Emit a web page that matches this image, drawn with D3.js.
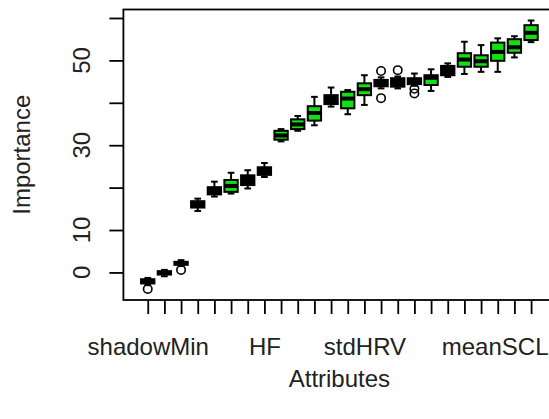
<!DOCTYPE html>
<html>
<head>
<meta charset="utf-8">
<script src="https://cdn.jsdelivr.net/npm/d3@7"></script>
<style>
  html, body { margin: 0; padding: 0; background: #fff; }
  svg { display: block; font-family: "Liberation Sans", Arial, sans-serif; }
</style>
</head>
<body>
<svg id="chart" width="549" height="419"></svg>
<script>
// ---- data ----
const tickLabels = ["shadowMin","","","","","","","HF","","","","","","stdHRV","","","","","","","","meanSCL","",""];
const whiskerLow  = [-3.0,-0.9, 1.5,14.5,17.9,18.6,19.8,22.5,30.9,33.4,34.7,39.1,37.3,39.5,43.4,43.4,44.0,42.8,46.1,46.8,47.3,47.3,50.7,54.3];
const q1          = [-2.6,-0.5, 1.8,15.3,18.4,19.0,20.6,23.0,31.3,33.8,35.8,39.7,38.7,41.8,43.9,43.8,44.4,44.2,46.5,48.5,48.5,49.9,51.8,54.8];
const medians     = [-2.1,-0.1, 2.2,16.0,19.3,20.4,21.8,23.9,32.3,34.9,37.6,40.7,41.0,43.2,44.6,44.8,45.1,45.9,47.6,50.2,49.8,52.0,53.1,56.5];
const q3          = [-1.6, 0.3, 2.5,16.8,20.1,21.8,22.9,24.8,33.4,36.1,39.2,41.8,42.6,44.6,45.4,45.8,45.8,46.5,48.7,51.7,51.2,54.2,55.0,58.3];
const whiskerHigh = [-1.3, 0.6, 2.9,17.4,21.4,23.5,24.1,25.8,33.8,36.9,41.4,43.6,43.0,46.5,46.0,46.2,46.9,47.9,49.3,54.4,53.6,55.2,55.7,59.4];
const outliers    = [[-3.9],[],[0.6],[],[],[],[],[],[],[],[],[],[],[],[47.5,41.1],[47.7],[43.3,42.2],[],[],[],[],[],[],[]];
const decisions   = ["k","k","k","k","k","g","k","k","g","g","g","k","g","g","k","k","k","g","k","g","g","g","g","g"];
const yTickValues = [0,10,20,30,40,50,60];
const yTickLabels = ["0","10","","30","","50",""];
const yTitle = "Importance";
const xTitle = "Attributes";

(function () {
// ---- layout ----
const n = tickLabels.length;
const W = 549;
const svg = d3.select("#chart");
const pLeft = 123.4, pTop = 9.5, pBottom = 300;
const x = d3.scaleLinear().domain([0.5 - 0.04 * n, n + 0.5 + 0.04 * n]).range([pLeft, pLeft + 25.92 * 16.667]);
const y = d3.scaleLinear().domain([-6.5, 62]).range([pBottom, pTop]);
const fills = { k: "#000000", g: "#12e012" };
const unit = x(2) - x(1);
const boxW = 0.8 * unit, capW = 0.4 * unit;

const data = tickLabels.map((lab, i) => ({
  i: i + 1, lo: whiskerLow[i], q1: q1[i], med: medians[i], q3: q3[i], hi: whiskerHigh[i],
  out: outliers[i], fill: fills[decisions[i]]
}));

const g = svg.append("g");
const boxes = g.selectAll("g.box").data(data).join("g").attr("class", "box");

boxes.append("line").attr("x1", d => x(d.i)).attr("x2", d => x(d.i))
  .attr("y1", d => y(d.lo)).attr("y2", d => y(d.q1)).attr("stroke", "#000").attr("stroke-width", 2);
boxes.append("line").attr("x1", d => x(d.i)).attr("x2", d => x(d.i))
  .attr("y1", d => y(d.q3)).attr("y2", d => y(d.hi)).attr("stroke", "#000").attr("stroke-width", 2);
boxes.append("line").attr("x1", d => x(d.i) - capW / 2).attr("x2", d => x(d.i) + capW / 2)
  .attr("y1", d => y(d.lo)).attr("y2", d => y(d.lo)).attr("stroke", "#000").attr("stroke-width", 2);
boxes.append("line").attr("x1", d => x(d.i) - capW / 2).attr("x2", d => x(d.i) + capW / 2)
  .attr("y1", d => y(d.hi)).attr("y2", d => y(d.hi)).attr("stroke", "#000").attr("stroke-width", 2);
boxes.append("rect").attr("x", d => x(d.i) - boxW / 2).attr("width", boxW)
  .attr("y", d => y(d.q3)).attr("height", d => y(d.q1) - y(d.q3))
  .attr("fill", d => d.fill).attr("stroke", "#000").attr("stroke-width", 2);
boxes.append("line").attr("x1", d => x(d.i) - boxW / 2).attr("x2", d => x(d.i) + boxW / 2)
  .attr("y1", d => y(d.med)).attr("y2", d => y(d.med)).attr("stroke", "#000").attr("stroke-width", 4);
boxes.selectAll("circle").data(d => d.out.map(v => ({ i: d.i, v }))).join("circle")
  .attr("cx", d => x(d.i)).attr("cy", d => y(d.v)).attr("r", 4.2)
  .attr("fill", "none").attr("stroke", "#000").attr("stroke-width", 1.6);

svg.append("rect").attr("x", pLeft).attr("y", pTop).attr("width", x.range()[1] - pLeft).attr("height", pBottom - pTop)
  .attr("fill", "none").attr("stroke", "#000").attr("stroke-width", 1.8);

const yAxis = d3.axisLeft(y).tickValues(yTickValues).tickSize(14).tickSizeOuter(0).tickFormat("");
const ya = svg.append("g").attr("transform", `translate(${pLeft},0)`).call(yAxis);
ya.select(".domain").remove();
ya.selectAll(".tick line").attr("stroke", "#000").attr("stroke-width", 1.8);
svg.append("g").selectAll("text").data(yTickValues.map((v, k) => ({ v, t: yTickLabels[k] })).filter(d => d.t))
  .join("text").attr("transform", d => `translate(90,${y(d.v)}) rotate(-90)`)
  .attr("text-anchor", "middle").attr("font-size", 24).attr("fill", "#222").text(d => d.t);

const xAxis = d3.axisBottom(x).tickValues(d3.range(1, n + 1)).tickSize(14).tickSizeOuter(0)
  .tickFormat((d) => tickLabels[d - 1]);
const xa = svg.append("g").attr("transform", `translate(0,${pBottom})`).call(xAxis);
xa.select(".domain").remove();
xa.selectAll(".tick line").attr("stroke", "#000").attr("stroke-width", 1.8);
xa.selectAll(".tick text").attr("y", 55).attr("dy", 0).attr("font-size", 24)
  .attr("font-family", "Liberation Sans, Arial, sans-serif").attr("fill", "#222")
  .each(function (d) {
    // keep a label that would run past the right edge inside the page
    const t = this.textContent;
    if (!t) return;
    const w = this.getComputedTextLength();
    const over = x(d) + w / 2 - (W - 1);
    if (over > 0) d3.select(this).attr("dx", -over);
  });

svg.append("text").attr("transform", `translate(30,${(pTop + pBottom) / 2}) rotate(-90)`)
  .attr("text-anchor", "middle").attr("font-size", 24).attr("fill", "#222").text(yTitle);
svg.append("text").attr("x", (x.range()[0] + x.range()[1]) / 2).attr("y", 387)
  .attr("text-anchor", "middle").attr("font-size", 24).attr("fill", "#222").text(xTitle);
})();
</script>
</body>
</html>
